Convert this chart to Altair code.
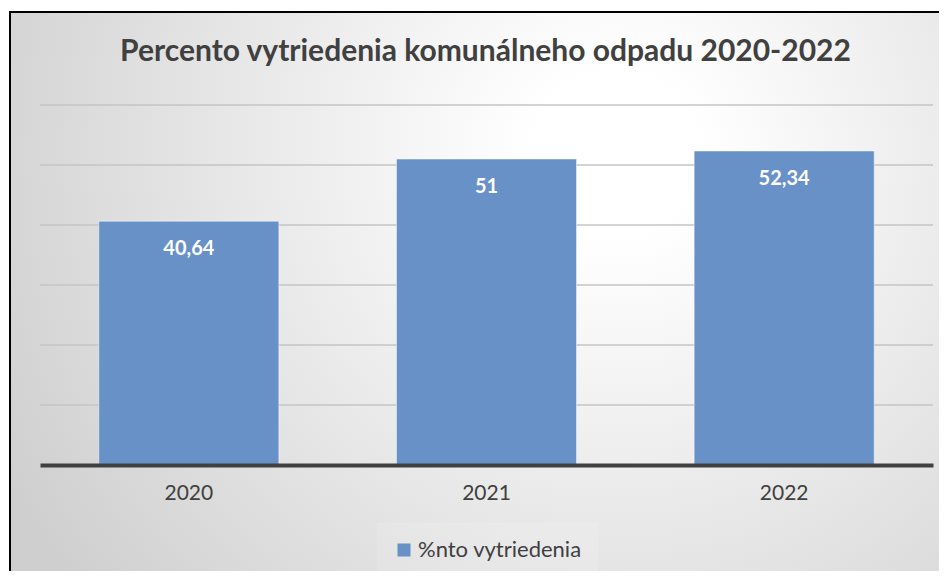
import altair as alt
import pandas as pd

# ---- data ----
years = ["2020", "2021", "2022"]
values = [40.64, 51, 52.34]
series_name = "%nto vytriedenia"
grid_values = [10, 20, 30, 40, 50, 60]
chart_title = "Percento vytriedenia komunálneho odpadu 2020-2022"

df = pd.DataFrame({"rok": years, "hodnota": values, "seria": [series_name] * len(years)})
grid_df = pd.DataFrame({"g": grid_values})
one_df = pd.DataFrame({"a": [0]})

W, H = 893, 360
FONT = "Lato"
TXT = "#404040"

y_scale = alt.Scale(domain=[0, 60])

bg = alt.Chart(one_df).mark_rect(
    fill=alt.RadialGradient(
        gradient="radial",
        stops=[
            alt.GradientStop(color="#ffffff", offset=0),
            alt.GradientStop(color="#ffffff", offset=0.12),
            alt.GradientStop(color="#cfcfcf", offset=1),
        ],
        x1=0.63, y1=0.32, r1=0, x2=0.63, y2=0.32, r2=0.72,
    ),
    stroke="#000000",
    strokeWidth=2,
).encode(x=alt.value(-30), x2=alt.value(930), y=alt.value(-93), y2=alt.value(540))

title = alt.Chart(one_df).mark_text(
    text=chart_title, font=FONT, fontSize=30, fontWeight="bold", color=TXT,
    align="center", baseline="alphabetic",
).encode(x=alt.value(W / 2 - 1), y=alt.value(-44))

grid = alt.Chart(grid_df).mark_rule(color="#c4c4c4", strokeWidth=1.5).encode(
    y=alt.Y("g:Q", scale=y_scale, axis=None)
)

bars = alt.Chart(df).mark_bar(
    stroke="#ffffff", strokeOpacity=0.5, strokeWidth=1
).encode(
    x=alt.X(
        "rok:N",
        sort=years,
        scale=alt.Scale(paddingInner=0.395, paddingOuter=0.1975),
        axis=alt.Axis(
            title=None, labelAngle=0, ticks=False, labelPadding=17,
            labelFont=FONT, labelFontSize=21, labelColor=TXT,
            domainColor=TXT, domainWidth=4, grid=False, zindex=2,
        ),
    ),
    y=alt.Y("hodnota:Q", scale=y_scale, axis=None),
    color=alt.Color(
        "seria:N",
        scale=alt.Scale(range=["#6791c7"]),
        legend=alt.Legend(
            title=None, orient="none", legendX=337, legendY=418,
            symbolType="square", symbolSize=169, symbolStrokeWidth=0,
            labelFont=FONT, labelFontSize=22, labelColor=TXT, labelOffset=3,
            labelLimit=0, padding=16, fillColor="rgba(255,255,255,0.12)", zindex=2,
        ),
    ),
)

labels = alt.Chart(df).transform_calculate(
    label="replace(toString(datum.hodnota), '.', ',')"
).mark_text(
    color="white", font=FONT, fontSize=20, fontWeight="bold",
    baseline="middle", dy=28,
).encode(
    x=alt.X("rok:N", sort=years),
    y=alt.Y("hodnota:Q", scale=y_scale),
    text="label:N",
)

chart = alt.layer(bg, grid, bars, labels, title).properties(
    width=W, height=H,
    padding={"left": 32, "top": 97, "right": 6, "bottom": 106},
    autosize="none",
).configure_view(stroke=None)

chart.save("out.html", embed_options={"renderer": "svg", "actions": False})
